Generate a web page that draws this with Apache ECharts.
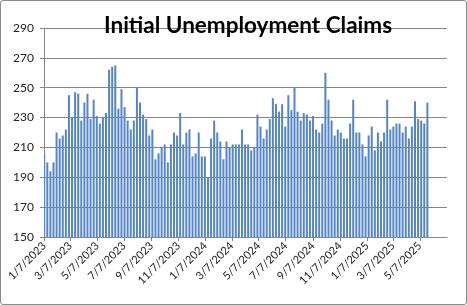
<!DOCTYPE html>
<html>
<head>
<meta charset="utf-8">
<script src="https://cdn.jsdelivr.net/npm/echarts@6/dist/echarts.min.js"></script>
<style>
html,body{margin:0;padding:0;background:#fff;}
#chart{position:absolute;left:0;top:0;width:467px;height:305px;}
#frame{position:absolute;left:0;top:0;width:465px;height:303px;border:1px solid #8c8c8c;border-radius:3px;pointer-events:none;}
</style>
</head>
<body>
<div id="chart"></div>
<div id="frame"></div>
<script>
// Weekly initial claims (thousands), weeks ending Saturday, starting 1/7/2023
const firstWeek = '2023-01-07';
const axisEnd = '2025-07-07';
const claims = [
  206, 200, 194, 200, 220, 216, 218, 222, 245, 230,
  247, 246, 228, 240, 246, 229, 242, 231, 226, 230,
  233, 262, 264, 265, 236, 249, 237, 228, 222, 228,
  250, 240, 232, 229, 218, 222, 202, 206, 210, 212,
  200, 212, 220, 218, 233, 212, 220, 222, 204, 206,
  220, 204, 204, 190, 216, 228, 220, 214, 202, 214,
  210, 212, 212, 212, 222, 212, 212, 208, 210, 232,
  224, 216, 222, 229, 243, 239, 234, 239, 224, 245,
  235, 250, 234, 228, 233, 232, 228, 231, 222, 220,
  226, 260, 242, 228, 218, 222, 220, 216, 216, 226,
  242, 220, 220, 212, 204, 218, 224, 208, 220, 214,
  220, 242, 222, 224, 226, 226, 220, 224, 216, 224,
  241, 229, 228, 226, 240
];
const tickLabels = ['1/7/2023','3/7/2023','5/7/2023','7/7/2023','9/7/2023','11/7/2023',
  '1/7/2024','3/7/2024','5/7/2024','7/7/2024','9/7/2024','11/7/2024',
  '1/7/2025','3/7/2025','5/7/2025'];
const yTicks = [150, 170, 190, 210, 230, 250, 270, 290];

function fmt(d){ return (d.getUTCMonth()+1) + '/' + d.getUTCDate() + '/' + d.getUTCFullYear(); }

// one category per day (date axis like the original)
const days = [];
const start = new Date(firstWeek + 'T00:00:00Z');
const end = new Date(axisEnd + 'T00:00:00Z');
for (let t = start.getTime(); t <= end.getTime(); t += 86400000) days.push(fmt(new Date(t)));

const weekDates = claims.map((v, i) => fmt(new Date(start.getTime() + i * 7 * 86400000)));
const byDate = {};
weekDates.forEach((d, i) => { byDate[d] = claims[i]; });
const seriesData = days.map(d => (d in byDate) ? byDate[d] : '-');

const tickSet = new Set(tickLabels);
const showTick = (idx, val) => tickSet.has(val);

const chart = echarts.init(document.getElementById('chart'), null, {renderer: 'canvas'});
chart.setOption({
  animation: false,
  backgroundColor: '#fff',
  title: {
    text: 'Initial Unemployment Claims',
    left: 243, top: 9, textAlign: 'center',
    textStyle: {fontFamily: 'Lato', fontWeight: 'bold', fontSize: 22.5, color: '#000'}
  },
  grid: {left: 44, right: 20, top: 28, bottom: 68, containLabel: false},
  xAxis: {
    type: 'category',
    data: days,
    boundaryGap: true,
    axisLine: {lineStyle: {color: '#868686', width: 1}},
    axisTick: {show: true, interval: showTick, alignWithLabel: true, length: 4, lineStyle: {color: '#868686'}},
    axisLabel: {interval: showTick, rotate: 45, margin: 7, fontFamily: 'Lato', fontSize: 11, color: '#222'},
    splitLine: {show: false}
  },
  yAxis: {
    type: 'value',
    min: yTicks[0], max: yTicks[yTicks.length - 1], interval: 20,
    axisLine: {show: true, lineStyle: {color: '#868686', width: 1}},
    axisTick: {show: true, length: 4, lineStyle: {color: '#868686'}},
    axisLabel: {margin: 10, fontFamily: 'Lato', fontSize: 12, color: '#222'},
    splitLine: {show: true, lineStyle: {color: '#868686', width: 1}}
  },
  series: [{
    type: 'bar',
    data: seriesData,
    barWidth: 2,
    itemStyle: {color: '#5585c9'},
    z: 1
  }]
});
</script>
</body>
</html>
